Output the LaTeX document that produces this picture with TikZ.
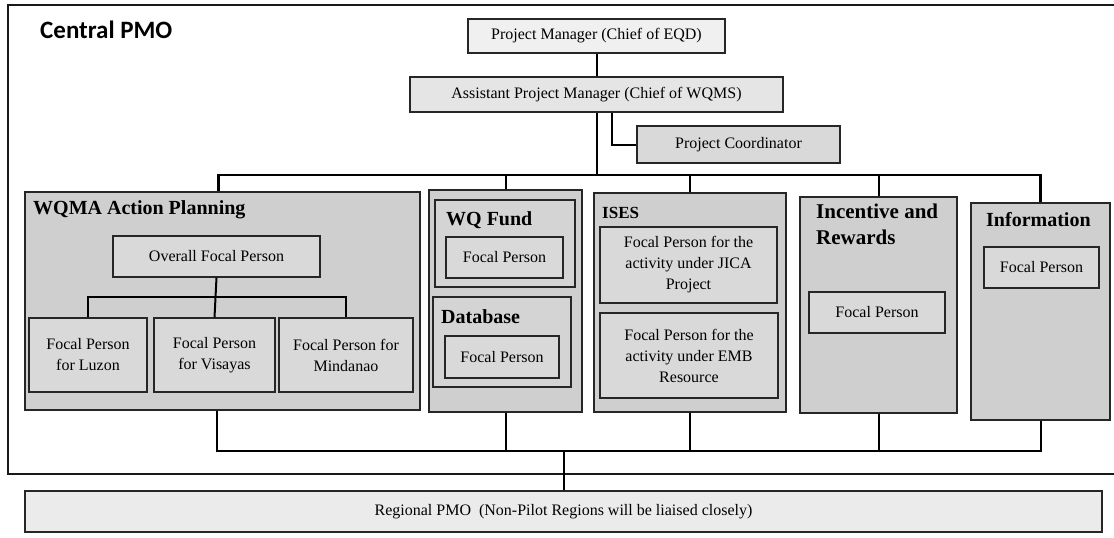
\documentclass[tikz,border=0pt]{standalone}
\usepackage{fontspec}
\setmainfont{Liberation Serif}
\newfontfamily\calib{Carlito}
\begin{document}
\begin{tikzpicture}[x=1pt,y=-1pt,
  bx/.style={draw=black!85, line width=1.1pt, fill=black!15, inner sep=2pt, align=center,
             font=\fontsize{16}{21}\selectfont, text=black},
  grp/.style={draw=black!85, line width=1.1pt, fill=black!19, inner sep=0pt},
  conn/.style={draw=black, line width=2pt},
  ttl/.style={anchor=west, inner sep=0pt, font=\bfseries\fontsize{20}{26}\selectfont},
]
\useasboundingbox (0,0) rectangle (1114,538);
\fill[white] (0,0) rectangle (1114,538);

% Central PMO frame (right side runs off the picture)
\draw[line width=2.2pt, black!90] (1116,5) -- (8,5) -- (8,474) -- (1116,474);
\node[anchor=west, inner sep=0pt, font=\calib\bfseries\fontsize{25}{29}\selectfont] (cpmo) at (40,30) {Central PMO};

% top management
\node[bx, fill=black!6, minimum width=257pt, minimum height=34pt] (pm) at (596.5,36) {Project Manager (Chief of EQD)};
\node[bx, fill=black!10, minimum width=373pt, minimum height=35pt] (apm) at (596.5,94.5) {Assistant Project Manager (Chief of WQMS)};
\node[bx, fill=black!15, minimum width=203pt, minimum height=37pt] (pc) at (738.5,144.5) {Project Coordinator};

% groups
\node[grp, minimum width=395pt, minimum height=218pt] (wqma) at (222.5,301) {};
\node[grp, minimum width=153pt, minimum height=222pt] (wq) at (505.5,301) {};
\node[grp, minimum width=192pt, minimum height=219pt] (ises) at (690,302.5) {};
\node[grp, minimum width=157pt, minimum height=216pt] (inc) at (878.5,305) {};
\node[grp, minimum width=139pt, minimum height=217pt] (info) at (1040.5,311.5) {};

% WQMA content
\node[ttl] (twqma) at (33,210) {WQMA Action Planning};
\node[bx, minimum width=207pt, minimum height=41pt] (ofp) at (216.5,256.5) {Overall Focal Person};
\node[bx, minimum width=118pt, minimum height=74pt] (luz) at (88,355) {Focal Person\\for Luzon};
\node[bx, minimum width=121pt, minimum height=74pt] (vis) at (214.5,355) {Focal Person\\for Visayas};
\node[bx, minimum width=134pt, minimum height=74pt] (min) at (346,355) {Focal Person for\\Mindanao};

% WQ Fund / Database
\node[grp, fill=black!17, minimum width=140pt, minimum height=87pt] (wqf) at (505,243.5) {};
\node[ttl] (twqf) at (446,220) {WQ Fund};
\node[bx, minimum width=117pt, minimum height=41pt] (wqffp) at (504.5,257.5) {Focal Person};
\node[grp, fill=black!17, minimum width=138pt, minimum height=90pt] (db) at (502,342) {};
\node[ttl] (tdb) at (441,317) {Database};
\node[bx, minimum width=114pt, minimum height=42pt] (dbfp) at (502,357) {Focal Person};

% ISES
\node[ttl, font=\bfseries\fontsize{17}{20}\selectfont] (tises) at (602,213) {ISES};
\node[bx, minimum width=177pt, minimum height=76pt] (is1) at (688.5,265) {Focal Person for the\\activity under JICA\\Project};
\node[bx, minimum width=178pt, minimum height=85pt] (is2) at (689,355.5) {Focal Person for the\\activity under EMB\\Resource};

% Incentive
\node[ttl, anchor=north west, align=left, font=\bfseries\fontsize{21}{26}\selectfont] (tinc) at (816,204) {Incentive and\\Rewards};
\node[bx, minimum width=136pt, minimum height=41pt] (incfp) at (877,312.5) {Focal Person};

% Information
\node[ttl] (tinfo) at (986,220) {Information};
\node[bx, minimum width=115pt, minimum height=41pt] (infofp) at (1041.5,267.5) {Focal Person};

% Regional
\node[bx, fill=black!8, minimum width=1077pt, minimum height=41pt] (reg) at (563.5,511.5) {Regional PMO\ \ (Non-Pilot Regions will be liaised closely)};

% connectors top
\coordinate (bar) at (596.5,175);
\draw[conn] (pm.south) -- (apm.north);
\draw[conn] (apm.south) -- (bar);
\draw[conn] ([xshift=15.5pt]apm.south) |- (pc.west);
\draw[conn, line width=2.4pt] ([xshift=-4pt]wqma.north) |- (bar) -| (info.north);
\draw[conn] (wq.north) -- (wq.north |- bar);
\draw[conn] (ises.north) -- (ises.north |- bar);
\draw[conn] (inc.north) -- (inc.north |- bar);

% WQMA internal
\coordinate (sb) at (216.5,297);
\draw[conn] (ofp.south) -- (vis.north);
\draw[conn] (luz.north) |- (sb) -| (min.north);

% connectors bottom
\coordinate (bb) at (563.5,451);
\draw[conn] ([xshift=-6pt]wqma.south) |- (bb) -| (info.south);
\draw[conn] (wq.south) -- (wq.south |- bb);
\draw[conn] (ises.south) -- (ises.south |- bb);
\draw[conn] (inc.south) -- (inc.south |- bb);
\draw[conn] (bb) -- (reg.north);
\end{tikzpicture}
\end{document}
